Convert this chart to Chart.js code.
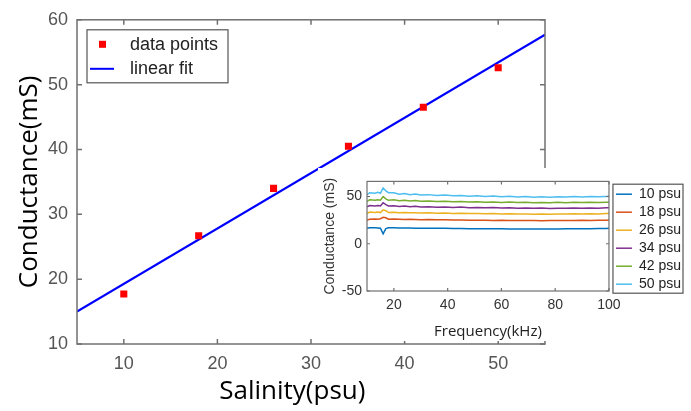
<!DOCTYPE html>
<html>
<head>
<meta charset="utf-8">
<script src="https://cdn.jsdelivr.net/npm/chart.js@4.4.1/dist/chart.umd.min.js"></script>
<style>
  html, body { margin: 0; padding: 0; background: #fff; }
  #wrap { position: relative; width: 691px; height: 411px; }
  #main { position: absolute; left: 0; top: 0; }
  #inset { position: absolute; left: 318px; top: 168px; background: #fff; }
</style>
</head>
<body>
<div id="wrap">
  <canvas id="main" width="691" height="411"></canvas>
  <canvas id="inset" width="373" height="173"></canvas>
</div>
<script>
// main plot: measured points + linear fit
const salinity = [10, 18, 26, 34, 42, 50];
const conductance = [17.7, 26.7, 34.0, 40.5, 46.5, 52.6];
const fitX = [5, 55];
const fitY = [15.0, 57.7];
const salinityTicks = [10, 20, 30, 40, 50];

// inset: conductance vs frequency for each salinity
const freq = [10, 11, 13, 14, 15, 16, 17, 18, 20, 22, 24, 26, 28, 30, 33, 36, 39, 42, 45, 48,
  51, 54, 57, 60, 63, 66, 69, 72, 75, 78, 81, 84, 87, 90, 93, 96, 99, 100];
const psuLabels = ["10 psu", "18 psu", "26 psu", "34 psu", "42 psu", "50 psu"];
const psu10 = [16.5, 17, 17, 16.8, 16.5, 10.5, 16, 17, 16.9, 16.8, 16.7, 16.6, 16.5, 16.5, 16.4, 16.3, 16.3, 16.2, 16.1, 16,
  15.9, 15.9, 15.8, 15.8, 15.7, 15.7, 15.6, 15.6, 15.6, 15.7, 15.7, 15.8, 15.9, 15.9, 16, 16.1, 16.2, 16.3];
const psu18 = [25, 26, 26.3, 26, 26.5, 28, 27.5, 26, 26.3, 26, 25.8, 26, 25.7, 25.5, 25.6, 25.3, 25.4, 25.1, 25.2, 25,
  24.8, 24.9, 24.7, 24.8, 24.6, 24.7, 24.5, 24.6, 24.4, 24.6, 24.5, 24.7, 24.6, 24.8, 24.7, 24.9, 25, 25.1];
const psu26 = [32, 33.5, 33, 33.5, 33, 36, 35, 33, 33.3, 32.8, 33.2, 32.7, 32.9, 32.5, 32.7, 32.3, 32.5, 32.1, 32.3, 31.9,
  32.1, 31.7, 31.9, 31.6, 31.8, 31.4, 31.6, 31.3, 31.5, 31.3, 31.6, 31.4, 31.7, 31.5, 31.8, 31.6, 31.9, 32];
const psu34 = [39, 40.5, 40, 40.5, 40, 43.5, 41.5, 40, 40.3, 39.5, 40, 39.3, 39.6, 39, 39.3, 38.7, 39, 38.5, 38.8, 38.2,
  38.5, 38, 38.3, 37.8, 38.1, 37.6, 37.9, 37.5, 37.8, 37.4, 37.7, 37.5, 37.8, 37.6, 37.9, 37.7, 38, 38];
const psu42 = [45, 46.5, 46, 46.5, 46, 50, 47.5, 46, 46.5, 45.5, 46, 45.3, 45.7, 45, 45.3, 44.7, 45, 44.5, 44.8, 44.2,
  44.5, 44, 44.3, 43.8, 44.1, 43.6, 43.9, 43.4, 43.7, 43.5, 43.8, 43.5, 43.8, 43.6, 43.9, 43.7, 44, 44];
const psu50 = [52, 54, 53.5, 54.5, 53.5, 59, 56, 54, 54, 52.5, 53.3, 52, 52.7, 51.5, 52, 51, 51.6, 50.7, 51.2, 50.3,
  50.8, 50, 50.5, 49.8, 50.2, 49.5, 50, 49.3, 49.7, 49.2, 49.8, 49.4, 49.9, 49.5, 50, 49.7, 50.1, 50.2];
const psuColors = ["#0072BD", "#D95319", "#EDB120", "#7E2F8E", "#77AC30", "#4DBEEE"];

// matlab-like box with inward ticks on all four sides
const frame = {
  id: "frame",
  afterDatasetsDraw(chart, args, opts) {
    const { ctx, chartArea: a } = chart;
    const { x, y } = chart.scales;
    const L = opts.tick;
    ctx.save();
    ctx.strokeStyle = opts.color;
    ctx.lineWidth = opts.width;
    ctx.strokeRect(a.left, a.top, a.width, a.height);
    ctx.beginPath();
    x.ticks.forEach((t) => {
      const px = x.getPixelForValue(t.value);
      ctx.moveTo(px, a.bottom);
      ctx.lineTo(px, a.bottom - L);
      ctx.moveTo(px, a.top);
      ctx.lineTo(px, a.top + L);
    });
    y.ticks.forEach((t) => {
      const py = y.getPixelForValue(t.value);
      ctx.moveTo(a.left, py);
      ctx.lineTo(a.left + L, py);
      ctx.moveTo(a.right, py);
      ctx.lineTo(a.right - L, py);
    });
    ctx.stroke();
    ctx.restore();
  },
};

// boxed legend + x title for the main plot
const mainLegend = {
  id: "mainLegend",
  afterDraw(chart) {
    const { ctx, chartArea: a } = chart;
    const ds = chart.data.datasets;
    const bx = a.left + 10, by = a.top + 10, bw = 141, bh = 53;
    ctx.save();
    ctx.fillStyle = "#fff";
    ctx.fillRect(bx, by, bw, bh);
    ctx.strokeStyle = "#555";
    ctx.lineWidth = 1.2;
    ctx.strokeRect(bx, by, bw, bh);
    ctx.font = "18px 'Liberation Sans'";
    ctx.textBaseline = "middle";
    ctx.fillStyle = ds[0].backgroundColor;
    ctx.fillRect(bx + 12, by + 11, 7, 7);
    ctx.fillStyle = "#222";
    ctx.fillText(ds[0].label, bx + 43, by + 15);
    ctx.strokeStyle = ds[1].borderColor;
    ctx.lineWidth = 2;
    ctx.beginPath();
    ctx.moveTo(bx + 3, by + 39);
    ctx.lineTo(bx + 27, by + 39);
    ctx.stroke();
    ctx.fillText(ds[1].label, bx + 43, by + 39);

    // x axis title sits a bit left of centre in the original
    ctx.font = "26px 'Open Sans'";
    ctx.fillStyle = "#000";
    ctx.textAlign = "center";
    ctx.fillText("Salinity(psu)", a.left + a.width * 0.46, 392);
    ctx.restore();
  },
};

// inset legend: a small gap from the plot, and a border round its items
const legendBox = {
  id: "legendBox",
  afterLayout(chart) {
    chart.legend.left += 3;
    chart.legend.right += 3;
  },
  afterDraw(chart) {
    const boxes = chart.legend.legendHitBoxes;
    if (!boxes || !boxes.length) return;
    const l = Math.min(...boxes.map((b) => b.left));
    const t = Math.min(...boxes.map((b) => b.top));
    const r = Math.max(...boxes.map((b) => b.left + b.width));
    const btm = Math.max(...boxes.map((b) => b.top + b.height));
    const ctx = chart.ctx;
    ctx.save();
    ctx.strokeStyle = "#555";
    ctx.lineWidth = 1.2;
    ctx.strokeRect(l - 3, t - 3, r - l + 5, btm - t + 5);
    ctx.restore();
  },
};

const tickFont = { family: "'Liberation Sans', Arial", size: 18 };

new Chart(document.getElementById("main"), {
  type: "scatter",
  data: {
    datasets: [
      {
        label: "data points",
        data: salinity.map((s, i) => ({ x: s, y: conductance[i] })),
        backgroundColor: "#ff0000",
        borderColor: "#ff0000",
        pointStyle: "rect",
        pointRadius: 5,
        borderWidth: 0,
      },
      {
        label: "linear fit",
        data: fitX.map((s, i) => ({ x: s, y: fitY[i] })),
        showLine: true,
        borderColor: "#0000ff",
        backgroundColor: "#0000ff",
        borderWidth: 2.2,
        pointRadius: 0,
      },
    ],
  },
  options: {
    responsive: false,
    animation: false,
    devicePixelRatio: 1,
    layout: { padding: { top: 15, right: 146, bottom: 0, left: 0 } },
    plugins: {
      legend: { display: false },
      tooltip: { enabled: false },
      frame: { color: "#707070", width: 1.5, tick: 5 },
    },
    scales: {
      x: {
        type: "linear",
        min: 5,
        max: 55,
        ticks: { padding: 9, color: "#555", font: tickFont },
        afterBuildTicks(s) { s.ticks = salinityTicks.map((v) => ({ value: v })); },
        grid: { display: false, drawTicks: false },
        border: { display: false },
        afterFit(s) { s.height = 67; },
      },
      y: {
        min: 10,
        max: 60,
        ticks: { stepSize: 10, padding: 9, color: "#555", font: tickFont },
        grid: { display: false, drawTicks: false },
        border: { display: false },
        title: {
          display: true,
          text: "Conductance(mS)",
          color: "#000",
          font: { family: "'Open Sans'", size: 26 },
          padding: { top: 14, bottom: 0 },
        },
        afterFit(s) { s.width = 77; },
      },
    },
  },
  plugins: [frame, mainLegend],
});

const series = [psu10, psu18, psu26, psu34, psu42, psu50];
const insetFont = { family: "'Liberation Sans', Arial", size: 14 };

new Chart(document.getElementById("inset"), {
  type: "line",
  data: {
    datasets: series.map((vals, i) => ({
      label: psuLabels[i],
      data: freq.map((f, j) => ({ x: f, y: vals[j] })),
      borderColor: psuColors[i],
      backgroundColor: psuColors[i],
      borderWidth: 1.5,
      pointRadius: 0,
      tension: 0,
    })),
  },
  options: {
    responsive: false,
    animation: false,
    devicePixelRatio: 1,
    layout: { padding: { top: 10, right: 3, bottom: 0, left: 0 } },
    plugins: {
      tooltip: { enabled: false },
      frame: { color: "#707070", width: 1.2, tick: 3 },
      legend: {
        position: "right",
        align: "start",
        title: { display: true, text: " ", font: { size: 1 }, padding: 2 },
        labels: {
          usePointStyle: true,
          pointStyle: "line",
          pointStyleWidth: 16,
          padding: 4,
          color: "#222",
          font: { family: "'Liberation Sans', Arial", size: 14 },
        },
      },
    },
    scales: {
      x: {
        type: "linear",
        min: 10,
        max: 100,
        ticks: { stepSize: 20, includeBounds: false, padding: 6, color: "#333", font: insetFont },
        grid: { display: false, drawTicks: false },
        border: { display: false },
        title: {
          display: true,
          text: "Frequency(kHz)",
          color: "#222",
          font: { family: "'Open Sans'", size: 15 },
          padding: { top: 0, bottom: 0 },
        },
        afterFit(s) { s.height = 50; },
      },
      y: {
        min: -50,
        max: 66,
        ticks: { stepSize: 50, includeBounds: false, padding: 5, color: "#333", font: insetFont },
        grid: { display: false, drawTicks: false },
        border: { display: false },
        title: {
          display: true,
          text: "Conductance (mS)",
          color: "#333",
          font: { family: "'Liberation Sans', Arial", size: 14 },
          padding: { top: 4, bottom: 0 },
        },
        afterFit(s) { s.width = 49; },
      },
    },
  },
  plugins: [frame, legendBox],
});
</script>
</body>
</html>
